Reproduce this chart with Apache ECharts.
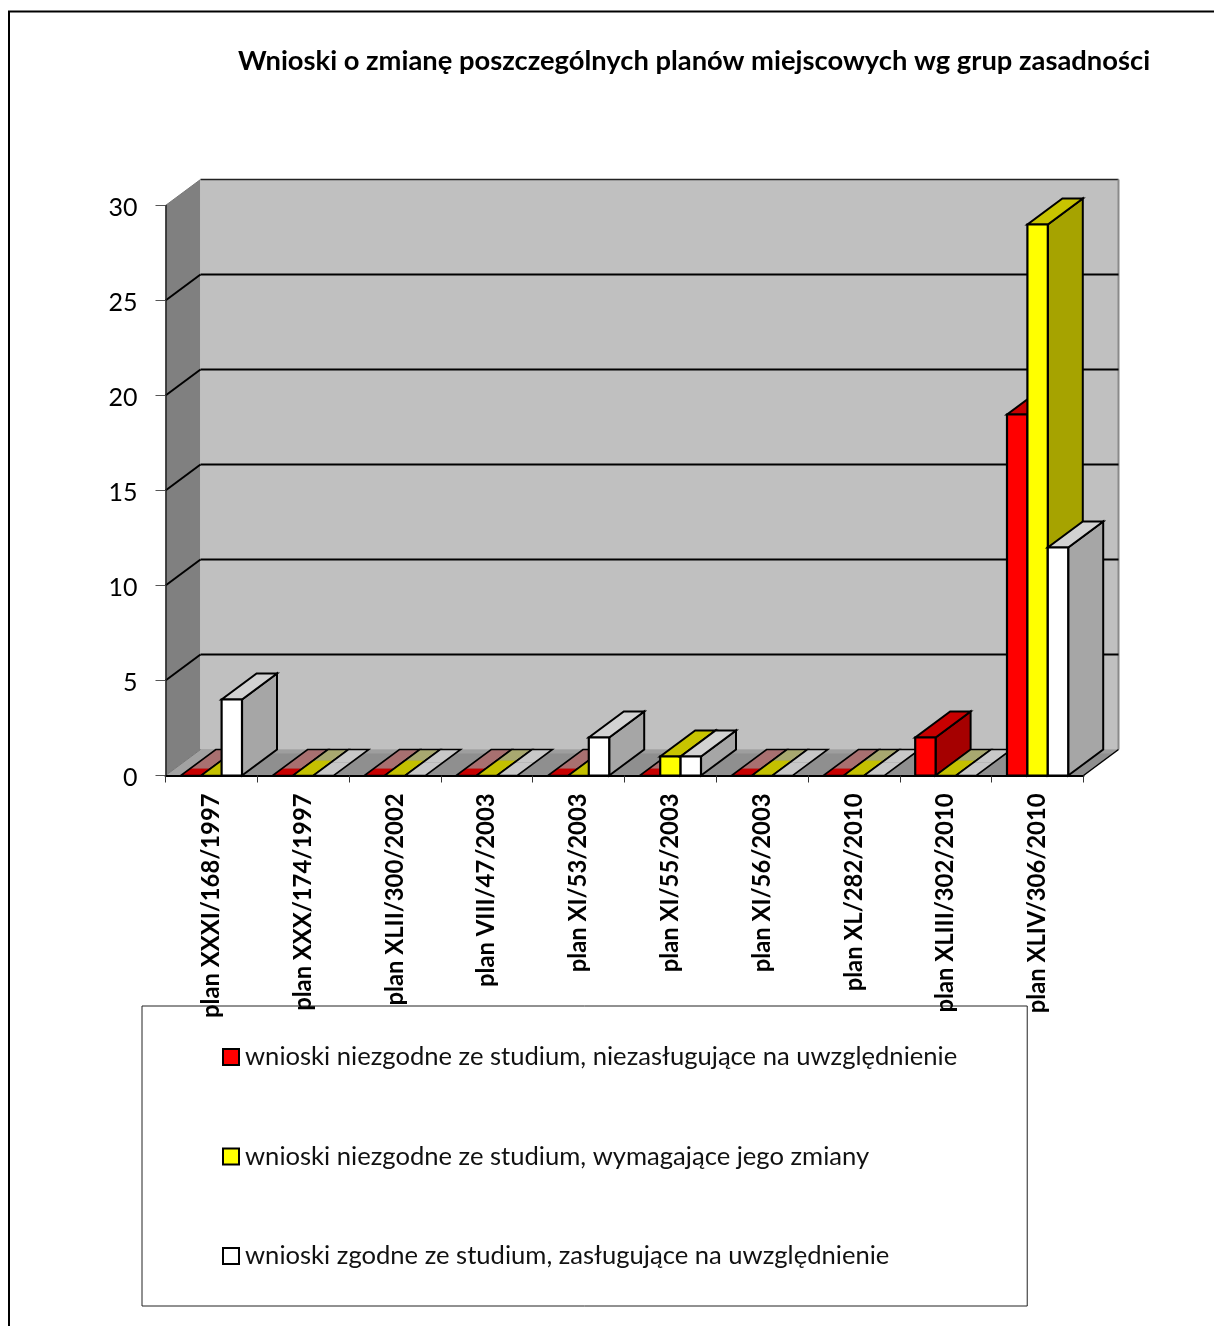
<!DOCTYPE html>
<html>
<head>
<meta charset="utf-8">
<style>html,body{margin:0;padding:0;background:#fff}#c{width:1214px;height:1326px}</style>
<script src="https://cdn.jsdelivr.net/npm/echarts@6/dist/echarts.min.js"></script>
</head>
<body>
<div id="c"></div>
<script>
const titleText = 'Wnioski o zmianę poszczególnych planów miejscowych wg grup zasadności';
const categories = ['plan XXXI/168/1997','plan XXX/174/1997','plan XLII/300/2002','plan VIII/47/2003','plan XI/53/2003','plan XI/55/2003','plan XI/56/2003','plan XL/282/2010','plan XLIII/302/2010','plan XLIV/306/2010'];
const nameRed = 'wnioski niezgodne ze studium, niezasługujące na uwzględnienie';
const nameYellow = 'wnioski niezgodne ze studium, wymagające jego zmiany';
const nameWhite = 'wnioski zgodne ze studium, zasługujące na uwzględnienie';
const valuesRed = [0,0,0,0,0,0,0,0,2,19];
const valuesYellow = [0,0,0,0,0,1,0,0,0,29];
const valuesWhite = [4,0,0,0,2,1,0,0,0,12];
const yTicks = [0,5,10,15,20,25,30];

const DX = 35, DY = -26;            // oblique depth of the 3D box
const BAR_DIVISOR = 4.5;            // category width / bar width

const palettes = [
  {front:'#ff0000', top:'#c80000', side:'#a50000', flatRear:'#a87070', flatFront:'#c80000', split:0.27},
  {front:'#ffff00', top:'#c8c400', side:'#a6a300', flatRear:'#a8a870', flatFront:'#c4c000', split:0.58},
  {front:'#ffffff', top:'#d2d2d2', side:'#a6a6a6', flatRear:'#c8c8c8', flatFront:'#c8c8c8', split:0.5}
];

function poly(points, fill, z2, stroke, lw) {
  return {type:'polygon', shape:{points}, z2,
    style:{fill: fill || 'none', stroke: stroke || 'none', lineWidth: lw || 0}};
}
function line(a, b, stroke, lw, z2) {
  return {type:'line', shape:{x1:a[0],y1:a[1],x2:b[0],y2:b[1]}, z2,
    style:{stroke, lineWidth:lw}};
}
const back = p => [p[0]+DX, p[1]+DY];

function renderBox(params, api) {
  const cs = params.coordSys;
  const x0 = cs.x, x1 = cs.x + cs.width, yb = cs.y + cs.height, yt = cs.y;
  const kids = [];
  const A=[x0,yb], B=[x1,yb], T=[x0,yt];
  kids.push(poly([A,back(A),back(T),T], '#808080', 1));
  kids.push(poly([back(A),back(B),[x1+DX,yt+DY],back(T)], '#c0c0c0', 1));
  kids.push(poly([A,B,back(B),back(A)], '#8f8f8f', 2));
  // lighter rear strip of the floor and lighter wedge left of the first bar
  const rearF = 0.85, rA=[A[0]+DX*rearF,A[1]+DY*rearF], rB=[B[0]+DX*rearF,B[1]+DY*rearF];
  kids.push(poly([rA,rB,back(B),back(A)], '#9e9e9e', 2));
  const firstBar = x0 + (cs.width / categories.length) * 0.5 - 1.5 * (cs.width / categories.length) / BAR_DIVISOR;
  const W=[firstBar,yb];
  kids.push(poly([A,W,back(W),back(A)], '#a2a2a2', 2));
  kids.push(line(back(T),[x1+DX,yt+DY],'#222',1.5,3));
  kids.push(line(back(B),[x1+DX,yt+DY],'#8a8a8a',2,3));
  kids.push(line(T,back(T),'#777',1,3));
  kids.push(line(A,back(A),'#777',1,3));
  kids.push(line(B,back(B),'#000',1.5,3));
  yTicks.forEach(v => {
    if (v === 0 || v === 30) return;
    const p = api.coord([0, v]);
    const q = [x0, p[1]];
    kids.push(line(q, back(q), '#000', 2, 3));
    kids.push(line(back(q), [x1+DX, p[1]+DY], '#000', 2.2, 3));
  });
  return {type:'group', children:kids};
}

function barRenderer(idx) {
  return function (params, api) {
    const cat = api.value(0), val = api.value(1);
    const c = api.coord([cat, val]), base = api.coord([cat, 0]);
    const catW = api.size([1, 0])[0];
    const w = catW / BAR_DIVISOR;
    const xl = c[0] + (idx - 1.5) * w, xr = xl + w;
    const pal = palettes[idx];
    const z = 10 + cat * 10 + idx * 3;
    const kids = [];
    if (val === 0) {
      const y = base[1];
      const m = (p) => [p[0] + DX*pal.split, p[1] + DY*pal.split];
      const L=[xl,y], R=[xr,y];
      kids.push(poly([m(L),m(R),back(R),back(L)], pal.flatRear, z));
      kids.push(poly([L,R,m(R),m(L)], pal.flatFront, z));
      kids.push(poly([L,R,back(R),back(L)], null, z+1, '#000', 1.6));
    } else {
      const TL=[xl,c[1]], TR=[xr,c[1]], BL=[xl,base[1]], BR=[xr,base[1]];
      kids.push(poly([BR,back(BR),back(TR),TR], pal.side, z, '#000', 2));
      kids.push(poly([TL,TR,back(TR),back(TL)], pal.top, z, '#000', 2));
      kids.push(poly([TL,TR,BR,BL], pal.front, z+1, '#000', 2.2));
    }
    return {type:'group', children:kids};
  };
}

function barSeries(name, values, idx) {
  return {
    name, type:'custom', coordinateSystem:'cartesian2d', silent:true, clip:false, z:2,
    itemStyle:{color:palettes[idx].front, borderColor:'#000', borderWidth:2},
    encode:{x:0,y:1},
    data: values.map((v,i)=>[i,v]),
    renderItem: barRenderer(idx)
  };
}

const chart = echarts.init(document.getElementById('c'), null, {renderer:'canvas'});
chart.setOption({
  animation:false,
  backgroundColor:'#fff',
  graphic:[
    {type:'polyline', z:0, silent:true, shape:{points:[[9,1326],[9,11.5],[1214,11.5]]},
     style:{stroke:'#000', lineWidth:2, fill:'none'}}
  ],
  title:{text:titleText, left:238, top:48, padding:0,
    textStyle:{fontFamily:'Lato', fontWeight:'bold', fontSize:27.34, color:'#000'}},
  grid:{left:165.5, right:130.5, top:205.5, bottom:550.5, containLabel:false},
  legend:{
    orient:'vertical', left:142, top:1006, z:1,
    padding:[38,70,37,80], itemGap:73.5, itemWidth:16, itemHeight:16,
    backgroundColor:'#fff', borderColor:'#222', borderWidth:1, borderRadius:0,
    selectedMode:false, icon:'rect',
    textStyle:{fontFamily:'Lato', fontSize:25.6, color:'#111', padding:[0,0,0,1]},
    data:[nameRed,nameYellow,nameWhite]
  },
  xAxis:{
    type:'category', data:categories, z:6,
    axisLine:{lineStyle:{color:'#000', width:2}},
    axisTick:{show:true, alignWithLabel:false, length:7, lineStyle:{color:'#333', width:1}},
    splitLine:{show:false},
    axisLabel:{interval:0, rotate:90, margin:18, hideOverlap:false,
      fontFamily:'Lato', fontWeight:'bold', fontSize:23.8, color:'#000'}
  },
  yAxis:{
    type:'value', min:0, max:30, interval:5, z:6,
    axisLine:{show:true, lineStyle:{color:'#222', width:1.5}},
    axisTick:{show:true, length:10, lineStyle:{color:'#555', width:1}},
    splitLine:{show:false},
    axisLabel:{margin:28, fontFamily:'Lato', fontSize:25, color:'#000', verticalAlign:'top', lineHeight:5}
  },
  series:[
    {type:'custom', coordinateSystem:'cartesian2d', silent:true, clip:false, z:1,
     encode:{x:0,y:1}, data:[[0,0]], renderItem:renderBox},
    barSeries(nameRed, valuesRed, 0),
    barSeries(nameYellow, valuesYellow, 1),
    barSeries(nameWhite, valuesWhite, 2)
  ]
});
</script>
</body>
</html>
